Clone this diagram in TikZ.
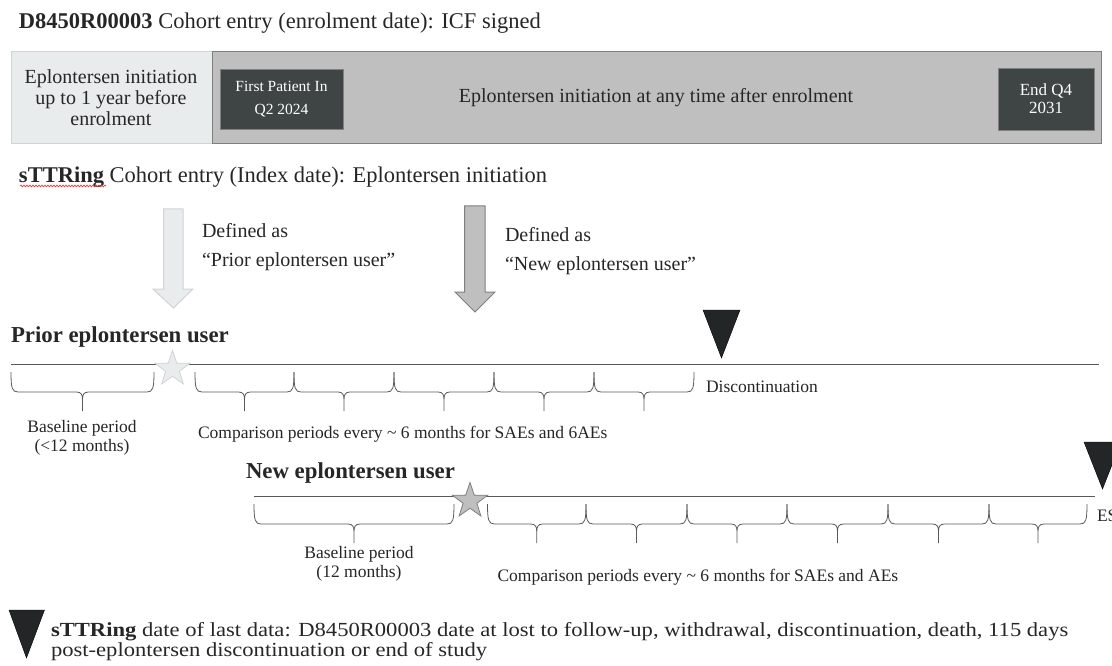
\documentclass[tikz,border=0pt]{standalone}
\usepackage{fontspec}
\setmainfont{Liberation Serif}
\newfontfamily\widefont[FakeStretch=1.13]{Liberation Serif}
\usetikzlibrary{shapes.geometric,decorations.pathmorphing}
\definecolor{txt}{HTML}{262626}
\definecolor{lightfill}{HTML}{E9ECEC}
\definecolor{lightbd}{HTML}{D2D4D4}
\definecolor{midfill}{HTML}{BFBFBF}
\definecolor{midbd}{HTML}{7F7F7F}
\definecolor{darkfill}{HTML}{3F4444}
\definecolor{tri}{HTML}{222626}
\definecolor{linec}{HTML}{595959}
\definecolor{squig}{HTML}{E04040}
\newcommand{\fA}{\fontsize{22.5}{26}\selectfont}
\newcommand{\fH}{\fontsize{22.8}{26}\selectfont\bfseries}
\newcommand{\fB}{\fontsize{20}{21}\selectfont}
\newcommand{\fC}{\fontsize{17.5}{19}\selectfont}
\newcommand{\fD}{\fontsize{15.5}{23}\selectfont}
\newcommand{\cbr}[3]{%
 \pgfmathsetmacro\xa{#1}\pgfmathsetmacro\xb{#2}\pgfmathsetmacro\ya{#3}%
 \pgfmathsetmacro\xm{(#1+#2)/2}\pgfmathsetmacro\ym{#3+20}\pgfmathsetmacro\yt{#3+39}%
 \draw[brc] (\xa,\ya) .. controls (\xa,\ym-4) and (\xa+1,\ym) .. (\xa+7,\ym) -- (\xm-6,\ym)
   .. controls (\xm-1,\ym) and (\xm,\ym+3) .. (\xm,\ym+8) -- (\xm,\yt)
   (\xm,\ym+8) .. controls (\xm,\ym+3) and (\xm+1,\ym) .. (\xm+6,\ym) -- (\xb-7,\ym)
   .. controls (\xb-1,\ym) and (\xb,\ym-4) .. (\xb,\ya);}
\begin{document}
\begin{tikzpicture}[x=1pt,y=-1pt,
  every node/.style={inner sep=0pt,outer sep=0pt,text=txt},
  brc/.style={draw=linec,line width=0.8pt},
  tl/.style={draw=linec,line width=1pt},
  blk/.style={fill=darkfill,draw=midbd,line width=0.5pt,text=white,align=center},
  tri/.style={fill=tri},
  lbl/.style={anchor=west,font=\fB},
  sml/.style={font=\fC},
  strA/.style={star,star points=5,star point ratio=2.55,minimum size=37pt,line width=0.8pt}]
\clip (0,0) rectangle (1112,666);
\useasboundingbox (0,0) rectangle (1112,666);
% header
\node[anchor=west,font=\fA] (title) at (19,23) {\textbf{D8450R00003} Cohort entry (enrolment date): ICF signed};
\node[anchor=north west,draw=lightbd,fill=lightfill,minimum width=200.5pt,minimum height=92pt,line width=1pt] (lbox) at (11.5,52) {};
\node[anchor=north west,draw=midbd,fill=midfill,minimum width=889pt,minimum height=92pt,line width=1pt] (dbox) at (212,52) {};
\node[font=\fB,align=center] (ltext) at (111,98) {Eplontersen initiation\\up to 1 year before\\enrolment};
\node[font=\fB] (mtext) at (656,98) {Eplontersen initiation at any time after enrolment};
\node[blk,minimum width=123pt,minimum height=60pt,font=\fD] (fpi) at (281.5,99) {First Patient In\\Q2 2024};
\node[blk,minimum width=96pt,minimum height=62pt,font=\fontsize{17}{18}\selectfont] (endq) at (1046,99) {End Q4\\2031};
% sTTRing line
\node[anchor=west,font=\fA] (stt) at (19,177) {\textbf{sTTRing} Cohort entry (Index date): Eplontersen initiation};
\draw[squig,line width=0.7pt,decorate,decoration={snake,amplitude=0.9pt,segment length=3pt}] (20,186) -- (106,186);
% arrows
\draw[fill=lightfill,draw=lightbd,line width=1pt] (163.6,209) -- (183,209) -- (183,289) -- (193,289) -- (173.3,308) -- (153,289) -- (163.6,289) -- cycle;
\draw[fill=midfill,draw=midbd,line width=1pt] (464.5,206) -- (485,206) -- (485,292) -- (495,292) -- (475,312) -- (455,292) -- (464.5,292) -- cycle;
\node[lbl] (def1) at (202,231) {Defined as};
\node[lbl] (def1b) at (202,262) {“Prior eplontersen user”};
\node[lbl] (def2) at (505,235) {Defined as};
\node[lbl] (def2b) at (505,266) {“New eplontersen user”};
% prior timeline
\node[anchor=west,font=\fH] (prior) at (11,337) {Prior eplontersen user};
\coordinate (p0) at (11,364);
\coordinate (p1) at (1099,364);
\draw[tl] (p0) -- (p1);
\node[strA,draw=lightbd,fill=lightfill] (pstar) at (172.5,369) {};
\draw[tri] (703,310) -- (740,310) -- (721.5,358) -- cycle;
\node[anchor=west,sml] (disc) at (706,387) {Discontinuation};
\cbr{11}{154}{372}
\cbr{195}{294}{372}\cbr{294}{394}{372}\cbr{394}{494}{372}\cbr{494}{594}{372}\cbr{594}{694}{372}
\node[sml,align=center] (pbase) at (82,438) {Baseline period\\(<12 months)};
\node[anchor=west,sml] (pcomp) at (198,434) {Comparison periods every \textasciitilde{} 6 months for SAEs and 6AEs};
% new timeline
\node[anchor=west,font=\fH] (new) at (246,473) {New eplontersen user};
\coordinate (n0) at (253.5,496.5);
\coordinate (n1) at (1095,496.5);
\draw[tl] (n0) -- (n1);
\node[strA,draw=midbd,fill=midfill] (nstar) at (470,501) {};
\draw[tri] (1084,442) -- (1121,442) -- (1102.5,489) -- cycle;
\node[anchor=west,sml] (es) at (1097,516) {ES};
\cbr{254}{454}{504}
\cbr{487.5}{586}{504}\cbr{586}{687}{504}\cbr{687}{787}{504}\cbr{787}{888}{504}\cbr{888}{989}{504}\cbr{989}{1087}{504}
\node[sml,align=center] (nbase) at (359,564) {Baseline period\\(12 months)};
\node[anchor=west,sml] (ncomp) at (497.5,577) {Comparison periods every \textasciitilde{} 6 months for SAEs and AEs};
% legend
\draw[tri] (9,610) -- (44.5,610) -- (26.5,658) -- cycle;
\node[anchor=north west,align=left,font=\widefont\fontsize{20}{20}\selectfont] (legend) at (51,622) {\textbf{sTTRing} date of last data: D8450R00003 date at lost to follow-up, withdrawal, discontinuation, death, 115 days\\post-eplontersen discontinuation or end of study};
\end{tikzpicture}
\end{document}
